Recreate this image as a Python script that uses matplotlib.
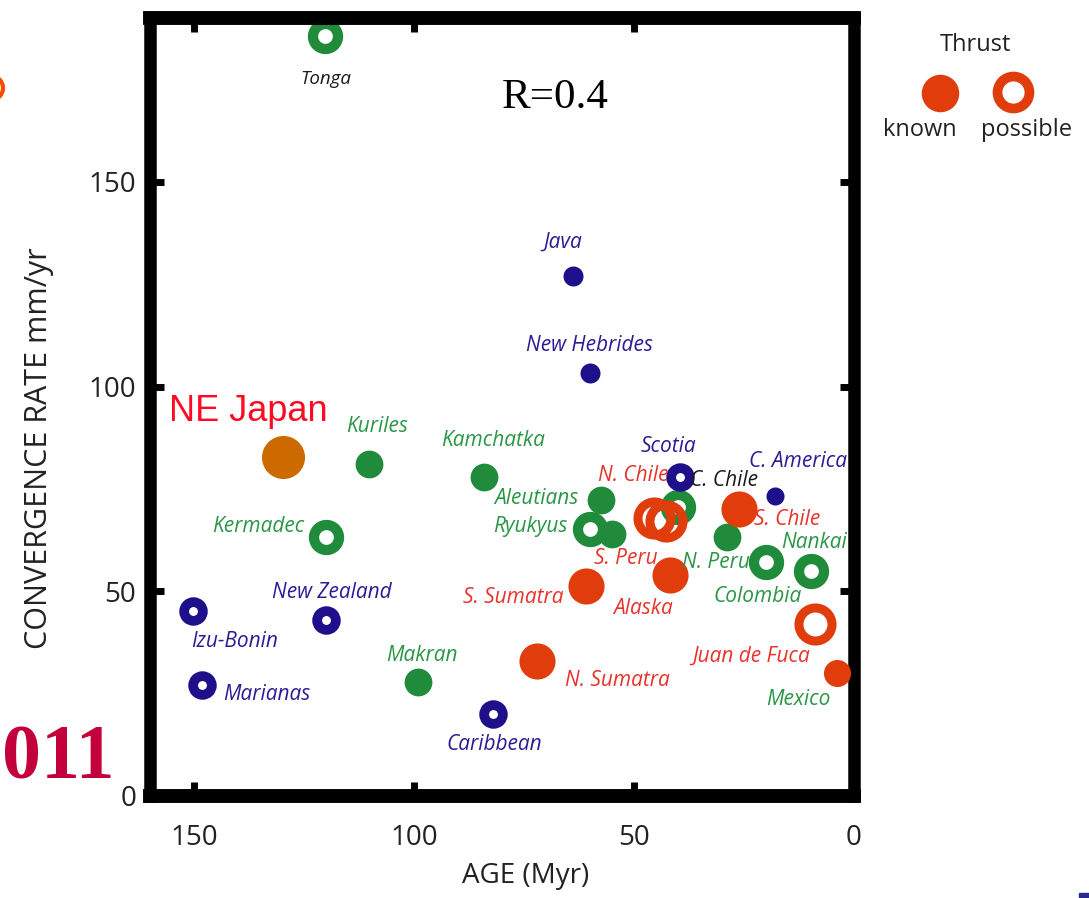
import matplotlib
matplotlib.use("Agg")
import matplotlib.pyplot as plt
from matplotlib.patches import Circle, Rectangle

# ---------------- data ----------------
names = ["Tonga", "Java", "New Hebrides", "NE Japan", "Kuriles", "Kamchatka",
         "Kermadec", "Scotia", "C. America", "C. Chile", "N. Chile", "S. Peru",
         "Aleutians", "Ryukyus", "", "S. Chile", "Nankai", "N. Peru", "Colombia",
         "S. Sumatra", "Alaska", "Juan de Fuca", "Mexico", "N. Sumatra",
         "Makran", "Caribbean", "New Zealand", "Izu-Bonin", "Marianas"]
age = [120.3, 63.8, 60.1, 129.8, 110.3, 84.0,
       120.0, 39.6, 18.0, 39.9, 45.5, 42.8,
       57.4, 59.9, 54.9, 26.2, 9.8, 28.9, 20.0,
       60.8, 41.9, 8.9, 3.9, 72.0,
       99.1, 82.0, 120.0, 150.3, 148.2]
rate = [185.5, 127.0, 103.2, 82.7, 81.0, 78.0,
        63.2, 78.0, 73.2, 70.5, 68.0, 67.1,
        72.4, 65.1, 63.9, 70.2, 54.9, 63.2, 57.1,
        51.2, 53.9, 42.0, 30.0, 32.9,
        27.8, 20.0, 42.9, 45.1, 27.1]
group = ["green_ring", "navy_dot", "navy_dot", "japan", "green_dot", "green_dot",
         "green_ring", "navy_ring", "navy_dot_s", "green_ring", "red_ring", "red_ring",
         "green_dot", "green_ring", "green_dot", "red_dot", "green_ring", "green_dot", "green_ring",
         "red_dot", "red_dot", "red_ring", "red_dot_s", "red_dot",
         "green_dot", "navy_ring", "navy_ring", "navy_ring", "navy_ring"]
label_color = ["black", "navy", "navy", "japan", "green", "green",
               "green", "navy", "navy", "black", "red", "red",
               "green", "green", "green", "red", "green", "green", "green",
               "red", "red", "red", "green", "red",
               "green", "navy", "navy", "navy", "navy"]
# label offsets (points) from each marker
label_off = [(1, -31), (-8, 24), (0, 20), (-25, 33), (6, 27), (6, 26),
             (-49, 8), (-8, 22), (17, 25), (33, 19), (-15, 30), (-29, -27),
             (-47, 1), (-43, 2), (0, 0), (35, -8), (2, 21), (-8, -18), (-6, -25),
             (-53, -8), (-19, -24), (-46, -23), (-28, -19), (58, -14),
             (3, 19), (1, -22), (4, 20), (30, -22), (47, -7)]

xticks = [150, 100, 50, 0]
yticks = [0, 50, 100, 150]

# ---------------- style ----------------
GREEN = "#1f8b3b"
NAVY = "#1e0f8a"
RED = "#e03c0c"
JAPAN = "#cc6a00"
TXT = {"green": "#2a9646", "navy": "#2b1c96", "red": "#e8322c", "black": "#1a1a1a"}

styles = {
    "green_ring": dict(color=GREEN, ms=18, mew=7.4, mfc="white", z=2),
    "green_dot": dict(color=GREEN, ms=20, mew=0, mfc=GREEN, z=2),
    "navy_dot": dict(color=NAVY, ms=14.4, mew=0, mfc=NAVY, z=4),
    "navy_dot_s": dict(color=NAVY, ms=13, mew=0, mfc=NAVY, z=4),
    "navy_ring": dict(color=NAVY, ms=13.5, mew=7, mfc="white", z=5),
    "red_dot": dict(color=RED, ms=26, mew=0, mfc=RED, z=3),
    "red_dot_s": dict(color=RED, ms=19.5, mew=0, mfc=RED, z=3),
    "red_ring": dict(color=RED, ms=23.8, mew=6.5, mfc="none", z=3),
    "japan": dict(color=JAPAN, ms=31, mew=0, mfc=JAPAN, z=3),
}

W, H = 1089, 898
fig = plt.figure(figsize=(W / 100, H / 100), dpi=100)
ax = fig.add_axes([150 / W, 1 - 796 / H, 704 / W, 778 / H])
ax.set_xlim(160, 0)
ax.set_ylim(0, 190)

SANS = ["Open Sans", "DejaVu Sans"]
LAB = ["Liberation Sans Narrow", "Open Sans", "DejaVu Sans"]

for i, n in enumerate(names):
    s = styles[group[i]]
    ax.plot([age[i]], [rate[i]], marker="o", linestyle="none", ms=s["ms"],
            mec=s["color"], mfc=s["mfc"], mew=s["mew"], zorder=s["z"],
            clip_on=False)
    if n == "":
        continue
    if group[i] == "japan":
        ax.annotate(n, (age[i], rate[i]), xytext=label_off[i], textcoords="offset points",
                    ha="center", va="center", fontsize=26, color="#ff0a22",
                    family=["Liberation Sans", "DejaVu Sans"], zorder=6)
    else:
        fs = 13.5 if n == "Tonga" else 15
        ax.annotate(n, (age[i], rate[i]), xytext=label_off[i], textcoords="offset points",
                    ha="center", va="center", fontsize=fs, style="italic",
                    color=TXT[label_color[i]], family=LAB, zorder=6)

ax.set_xticks(xticks)
ax.set_yticks(yticks)
ax.tick_params(direction="in", length=10, width=5, top=True, right=True,
               labelsize=20, pad=10, colors="black")
ax.tick_params(axis="x", pad=20)
for lab in ax.get_xticklabels() + ax.get_yticklabels():
    lab.set_family(SANS)
    lab.set_color("#222222")
for side in ["left", "right"]:
    ax.spines[side].set_linewidth(9)
for side in ["top", "bottom"]:
    ax.spines[side].set_linewidth(10)

ax.set_xlabel("AGE (Myr)", fontsize=20, family=SANS, color="#222222")
ax.set_ylabel("CONVERGENCE RATE mm/yr", fontsize=22, family=SANS, color="#222222")
ax.xaxis.set_label_coords(0.533, -0.085)
ax.yaxis.set_label_coords(-0.137, 0.447)

ax.text(0.575, 0.898, "R=0.4", transform=ax.transAxes, ha="center", va="center",
        fontsize=31, family=["Liberation Serif", "DejaVu Serif"], color="black")

# ---------------- legend (figure pixel overlay) ----------------
ov = fig.add_axes([0, 0, 1, 1], zorder=10)
ov.set_xlim(0, W)
ov.set_ylim(H, 0)
ov.axis("off")
ov.patch.set_alpha(0)
ov.text(975, 45, "Thrust", ha="center", va="center", fontsize=17, family=SANS, color="#222222")
ov.plot([940], [93], marker="o", ms=27, mfc=RED, mec=RED, mew=0, linestyle="none")
ov.plot([1013], [92], marker="o", ms=23, mfc="white", mec=RED, mew=7, linestyle="none")
ov.text(920, 130, "known", ha="center", va="center", fontsize=17, family=SANS, color="#222222")
ov.text(1027, 130, "possible", ha="center", va="center", fontsize=17, family=SANS, color="#222222")

# fragments at the image edges
ov.text(2, 760, "011", ha="left", va="center", fontsize=56, fontweight="bold",
        family=["Liberation Serif", "DejaVu Serif"], color="#c2003c")
ov.add_patch(Circle((-9, 88), 12, fill=False, ec="#ff4a00", lw=3, clip_on=True))
ov.add_patch(Rectangle((1079, 893), 12, 6, color="#2a2a8a"))

fig.savefig("out.png", dpi=100)
